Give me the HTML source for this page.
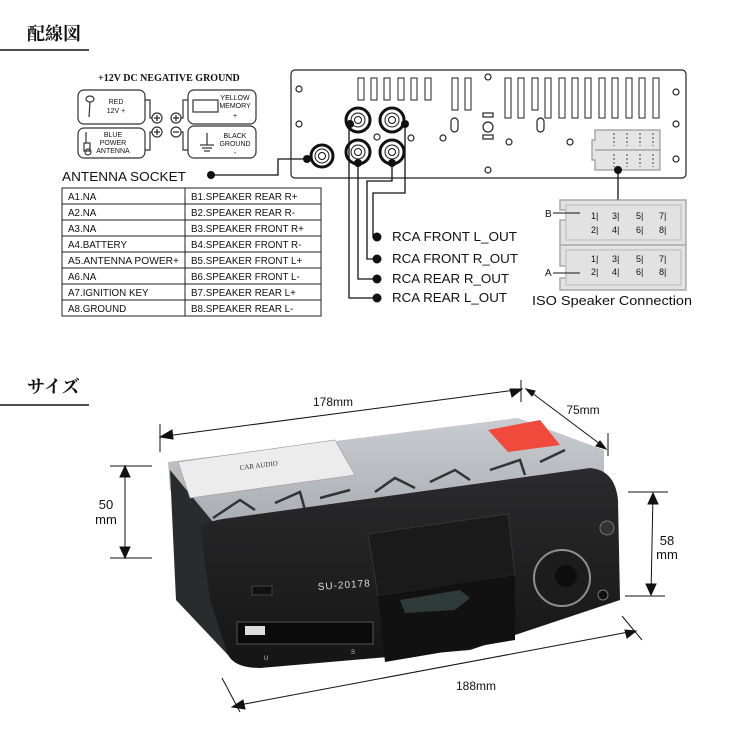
<!DOCTYPE html>
<html><head><meta charset="utf-8"><style>
html,body{margin:0;padding:0;background:#fff;}
svg{display:block;}
.t{font-family:"Liberation Sans",sans-serif;fill:#111;}
</style></head><body>
<svg width="750" height="750" viewBox="0 0 750 750" xmlns="http://www.w3.org/2000/svg">
<!-- headings -->
<text x="27" y="40" font-family="'Liberation Serif','Noto Serif CJK SC',serif" font-weight="bold" font-size="18" fill="#111">配線図</text>
<line x1="0" y1="50" x2="89" y2="50" stroke="#111" stroke-width="1.5"/>
<text x="27" y="393" font-family="'Liberation Serif','Noto Serif CJK SC',serif" font-weight="bold" font-size="18" fill="#111">サイズ</text>
<line x1="0" y1="405" x2="89" y2="405" stroke="#111" stroke-width="1.5"/>

<!-- power legend -->
<text x="98" y="81" font-family="'Liberation Serif',serif" font-weight="bold" font-size="10" fill="#111">+12V DC NEGATIVE GROUND</text>
<g fill="none" stroke="#333" stroke-width="1.2">
<rect x="78" y="90" width="67" height="34" rx="6"/>
<rect x="78" y="128" width="67" height="30" rx="6"/>
<rect x="188" y="90" width="68" height="34" rx="6"/>
<rect x="188" y="126" width="68" height="32" rx="6"/>
<polyline points="145,100 150,100 150,118 152,118"/>
<polyline points="145,150 150,150 150,132 152,132"/>
<polyline points="188,100 183,100 183,118 181,118"/>
<polyline points="188,150 183,150 183,132 181,132"/>
<circle cx="157" cy="118" r="5"/><circle cx="176" cy="118" r="5"/>
<circle cx="157" cy="132" r="5"/><circle cx="176" cy="132" r="5"/>
<rect x="193" y="100" width="25" height="12"/>
<line x1="207" y1="145" x2="207" y2="133"/><line x1="200" y1="145" x2="214" y2="145"/><line x1="202" y1="148" x2="212" y2="148"/><line x1="204" y1="151" x2="210" y2="151"/>
<ellipse cx="90" cy="99" rx="4" ry="3"/><line x1="90" y1="102" x2="89" y2="117"/>
<line x1="86" y1="132" x2="86" y2="143"/><rect x="84" y="143" width="6" height="8"/><circle cx="88" cy="152" r="3"/>
</g>
<g fill="#222" stroke="#222" stroke-width="1.2">
<line x1="154" y1="118" x2="160" y2="118"/><line x1="157" y1="115" x2="157" y2="121"/>
<line x1="173" y1="118" x2="179" y2="118"/><line x1="176" y1="115" x2="176" y2="121"/>
<line x1="154" y1="132" x2="160" y2="132"/><line x1="157" y1="129" x2="157" y2="135"/>
<line x1="173" y1="132" x2="179" y2="132"/>
</g>
<g class="t" font-size="7" text-anchor="middle">
<text x="116" y="104">RED</text><text x="116" y="113">12V +</text>
<text x="113" y="137">BLUE</text><text x="113" y="145">POWER</text><text x="113" y="153">ANTENNA</text>
<text x="235" y="100">YELLOW</text><text x="235" y="108">MEMORY</text><text x="235" y="118">+</text>
<text x="235" y="138">BLACK</text><text x="235" y="146">GROUND</text><text x="235" y="155">-</text>
</g>

<!-- antenna -->
<text x="62" y="181" class="t" font-size="12.5" textLength="124" lengthAdjust="spacingAndGlyphs">ANTENNA SOCKET</text>
<circle cx="211" cy="175" r="4" fill="#111"/>
<polyline points="211,175 278,175 278,159 304,159" fill="none" stroke="#111" stroke-width="1.3"/>

<!-- table -->
<g stroke="#222" stroke-width="1" fill="none">
<rect x="62" y="188" width="259" height="128"/>
<line x1="185" y1="188" x2="185" y2="316"/>
<line x1="62" y1="204" x2="321" y2="204"/><line x1="62" y1="220" x2="321" y2="220"/>
<line x1="62" y1="236" x2="321" y2="236"/><line x1="62" y1="252" x2="321" y2="252"/>
<line x1="62" y1="268" x2="321" y2="268"/><line x1="62" y1="284" x2="321" y2="284"/>
<line x1="62" y1="300" x2="321" y2="300"/>
</g>
<g class="t" font-size="9.8">
<text x="68" y="200">A1.NA</text><text x="68" y="216">A2.NA</text><text x="68" y="232">A3.NA</text><text x="68" y="248">A4.BATTERY</text>
<text x="68" y="264" textLength="111" lengthAdjust="spacingAndGlyphs">A5.ANTENNA POWER+</text><text x="68" y="280">A6.NA</text><text x="68" y="296">A7.IGNITION KEY</text><text x="68" y="312">A8.GROUND</text>
<text x="191" y="200">B1.SPEAKER REAR R+</text><text x="191" y="216">B2.SPEAKER REAR R-</text><text x="191" y="232">B3.SPEAKER FRONT R+</text><text x="191" y="248">B4.SPEAKER FRONT R-</text>
<text x="191" y="264">B5.SPEAKER FRONT L+</text><text x="191" y="280">B6.SPEAKER FRONT L-</text><text x="191" y="296">B7.SPEAKER REAR L+</text><text x="191" y="312">B8.SPEAKER REAR L-</text>
</g>

<!-- back panel -->
<g fill="none" stroke="#222" stroke-width="1.2">
<rect x="291" y="70" width="395" height="108" rx="4"/>
<circle cx="299" cy="89" r="3"/><circle cx="299" cy="124" r="3"/>
<circle cx="488" cy="77" r="3"/><circle cx="676" cy="92" r="3"/><circle cx="676" cy="124" r="3"/><circle cx="676" cy="159" r="3"/>
<circle cx="377" cy="137" r="3"/><circle cx="411" cy="138" r="3"/><circle cx="443" cy="138" r="3"/><circle cx="509" cy="142" r="3"/><circle cx="570" cy="142" r="3"/><circle cx="488" cy="170" r="3"/>
<rect x="451" y="118" width="7" height="14" rx="3.5"/><rect x="537" y="118" width="7" height="14" rx="3.5"/>
<circle cx="488" cy="127" r="5"/><rect x="483" y="113" width="10" height="4"/><rect x="483" y="135" width="10" height="4"/>
</g>
<g fill="none" stroke="#222" stroke-width="1">
<rect x="358" y="78" width="6" height="22"/><rect x="371" y="78" width="6" height="22"/><rect x="384" y="78" width="6" height="22"/><rect x="398" y="78" width="6" height="22"/><rect x="411" y="78" width="6" height="22"/><rect x="425" y="78" width="6" height="22"/>
<rect x="452" y="78" width="6" height="32"/><rect x="465" y="78" width="6" height="32"/>
<rect x="505" y="78" width="6" height="40"/><rect x="518" y="78" width="6" height="40"/><rect x="532" y="78" width="6" height="32"/><rect x="545" y="78" width="6" height="40"/><rect x="559" y="78" width="6" height="40"/><rect x="572" y="78" width="6" height="40"/><rect x="585" y="78" width="6" height="40"/><rect x="599" y="78" width="6" height="40"/><rect x="612" y="78" width="6" height="40"/><rect x="626" y="78" width="6" height="40"/><rect x="639" y="78" width="6" height="40"/><rect x="653" y="78" width="6" height="40"/>
</g>
<!-- in-panel ISO -->
<g fill="#e4e4e4" stroke="#999" stroke-width="1.2">
<path d="M595 130 H660 V170 H595 V160 H592 V140 H595 Z"/>
<line x1="595" y1="150" x2="660" y2="150"/>
</g>
<g stroke="#444" stroke-width="1" stroke-dasharray="2,2">
<line x1="614" y1="133" x2="614" y2="146"/><line x1="627" y1="133" x2="627" y2="146"/><line x1="640" y1="133" x2="640" y2="146"/><line x1="653" y1="133" x2="653" y2="146"/>
<line x1="614" y1="154" x2="614" y2="167"/><line x1="627" y1="154" x2="627" y2="167"/><line x1="640" y1="154" x2="640" y2="167"/><line x1="653" y1="154" x2="653" y2="167"/>
</g>
<circle cx="618" cy="170" r="4" fill="#111"/><line x1="618" y1="170" x2="618" y2="203" stroke="#111" stroke-width="1.3"/><circle cx="618" cy="203" r="4" fill="#111"/>

<!-- RCA jacks -->
<g fill="none" stroke="#111">
<circle cx="322" cy="156" r="11" stroke-width="3"/><circle cx="322" cy="156" r="7" stroke-width="1"/><circle cx="322" cy="156" r="3.5" stroke-width="1"/>
<circle cx="358" cy="120" r="12" stroke-width="3"/><circle cx="358" cy="120" r="7" stroke-width="1"/><circle cx="358" cy="120" r="3.5" stroke-width="1"/>
<circle cx="392" cy="120" r="12" stroke-width="3"/><circle cx="392" cy="120" r="7" stroke-width="1"/><circle cx="392" cy="120" r="3.5" stroke-width="1"/>
<circle cx="358" cy="152" r="12" stroke-width="3"/><circle cx="358" cy="152" r="7" stroke-width="1"/><circle cx="358" cy="152" r="3.5" stroke-width="1"/>
<circle cx="392" cy="152" r="12" stroke-width="3"/><circle cx="392" cy="152" r="7" stroke-width="1"/><circle cx="392" cy="152" r="3.5" stroke-width="1"/>
</g>
<g fill="#111"><circle cx="307" cy="159" r="4"/><circle cx="350" cy="124" r="4"/><circle cx="405" cy="124" r="4"/><circle cx="358" cy="163" r="4"/><circle cx="392" cy="163" r="4"/></g>
<g fill="none" stroke="#111" stroke-width="1.3">
<polyline points="349,124 349,298 377,298"/>
<polyline points="358,163 358,279 377,279"/>
<polyline points="392,163 392,181 367,181 367,259 377,259"/>
<polyline points="405,124 405,193 373,193 373,237 377,237"/>
</g>
<g fill="#111"><circle cx="377" cy="237" r="4.5"/><circle cx="377" cy="259" r="4.5"/><circle cx="377" cy="279" r="4.5"/><circle cx="377" cy="298" r="4.5"/></g>
<g class="t" font-size="12.5">
<text x="392" y="241" textLength="125" lengthAdjust="spacingAndGlyphs">RCA FRONT L_OUT</text><text x="392" y="263" textLength="126" lengthAdjust="spacingAndGlyphs">RCA FRONT R_OUT</text>
<text x="392" y="283" textLength="117" lengthAdjust="spacingAndGlyphs">RCA REAR R_OUT</text><text x="392" y="302" textLength="115" lengthAdjust="spacingAndGlyphs">RCA REAR L_OUT</text>
</g>

<!-- ISO box -->
<g fill="#e2e2e2" stroke="#aaa" stroke-width="1.5">
<path d="M560 200 H686 V290 H560 V278 H566 V266 H560 V220 H566 V210 H560 Z"/>
<line x1="560" y1="245" x2="686" y2="245"/>
</g>
<g fill="#e2e2e2" stroke="#bbb" stroke-width="1"><rect x="566" y="205" width="115" height="35"/><rect x="566" y="250" width="115" height="35"/></g>
<line x1="553" y1="213" x2="580" y2="213" stroke="#111"/><line x1="553" y1="273" x2="580" y2="273" stroke="#111"/>
<g class="t" font-size="10"><text x="545" y="217">B</text><text x="545" y="276">A</text></g>
<g class="t" font-size="9">
<text x="591" y="219">1|</text><text x="612" y="219">3|</text><text x="636" y="219">5|</text><text x="659" y="219">7|</text>
<text x="591" y="233">2|</text><text x="612" y="233">4|</text><text x="636" y="233">6|</text><text x="659" y="233">8|</text>
<text x="591" y="262">1|</text><text x="612" y="262">3|</text><text x="636" y="262">5|</text><text x="659" y="262">7|</text>
<text x="591" y="275">2|</text><text x="612" y="275">4|</text><text x="636" y="275">6|</text><text x="659" y="275">8|</text>
</g>
<text x="532" y="305" class="t" font-size="12.5" textLength="160" lengthAdjust="spacingAndGlyphs">ISO Speaker Connection</text>

<!-- product -->
<defs>
<linearGradient id="silv" x1="0" y1="0" x2="0" y2="1"><stop offset="0" stop-color="#c9ccd0"/><stop offset="1" stop-color="#a9adb2"/></linearGradient>
<linearGradient id="blk" x1="0" y1="0" x2="0" y2="1"><stop offset="0" stop-color="#2b2b2d"/><stop offset="1" stop-color="#151515"/></linearGradient>
</defs>
<polygon points="168,462 518,418 604,450 604,478 215,528 170,490" fill="url(#silv)"/>
<polygon points="170,470 218,528 228,655 176,600" fill="#2a2b2d"/>
<polygon points="178,462 335,440 355,475 190,498" fill="#ececec" stroke="#999" stroke-width="0.6"/>
<text x="240" y="470" font-family="'Liberation Serif',serif" font-size="7" fill="#333" transform="rotate(-7 240 470)">CAR AUDIO</text>
<polygon points="488,430 540,420 560,445 508,452" fill="#f04a3c"/>
<g stroke="#333" stroke-width="2.5" fill="none">
<polyline points="213,518 240,500 255,510"/><polyline points="275,503 300,492 305,510"/><polyline points="320,498 350,490"/><polyline points="375,492 395,478 415,488"/><polyline points="430,482 455,470 470,480"/><polyline points="490,470 520,460 525,475"/><polyline points="540,462 565,450"/>
</g>
<path d="M200 527 Q210 520 230 518 L590 468 Q615 470 618 500 L620 600 L470 650 L260 668 Q235 668 228 655 L210 600 Z" fill="url(#blk)"/>
<polygon points="368,534 508,514 515,575 465,583 378,596" fill="#1a1a1b" stroke="#3a3a3a" stroke-width="0.8"/>
<polygon points="378,596 515,575 515,640 385,662" fill="#111"/>
<polygon points="400,600 460,590 470,598 455,610 405,613" fill="#2f3b38"/>
<circle cx="562" cy="578" r="28" fill="#1c1c1c" stroke="#8f8f8f" stroke-width="2"/>
<circle cx="566" cy="576" r="11" fill="#0d0d0d"/>
<circle cx="607" cy="528" r="7" fill="#333" stroke="#777"/>
<circle cx="603" cy="595" r="5" fill="#111" stroke="#777"/>
<rect x="252" y="586" width="20" height="9" fill="#111" stroke="#444"/>
<rect x="237" y="622" width="136" height="22" fill="#0b0b0b" stroke="#666" stroke-width="0.8"/>
<rect x="245" y="626" width="20" height="9" fill="#ddd"/>
<text x="318" y="590" font-family="'Liberation Sans',sans-serif" font-size="10" fill="#ddd" transform="rotate(-4 318 590)" letter-spacing="1">SU-20178</text>
<text x="264" y="660" font-family="'Liberation Sans',sans-serif" font-size="6" fill="#ccc">U</text>
<text x="351" y="654" font-family="'Liberation Sans',sans-serif" font-size="6" fill="#ccc">S</text>

<!-- dimensions -->
<g stroke="#111" stroke-width="1" fill="#111">
<line x1="160" y1="424" x2="160" y2="452"/><line x1="521" y1="380" x2="521" y2="402"/>
<line x1="166" y1="436" x2="516" y2="390"/>
<polygon points="160,437 172,430 173,439"/><polygon points="522,389 510,389 512,397"/>
<line x1="528" y1="390" x2="604" y2="447"/>
<polygon points="526,389 535,391 532,396"/><polygon points="606,449 596,446 600,441"/>
<line x1="608" y1="433" x2="608" y2="456"/>
<line x1="110" y1="466" x2="152" y2="466"/><line x1="110" y1="558" x2="152" y2="558"/>
<line x1="125" y1="468" x2="125" y2="556"/>
<polygon points="125,466 120,477 130,477"/><polygon points="125,558 120,547 130,547"/>
<line x1="628" y1="492" x2="668" y2="492"/><line x1="625" y1="596" x2="665" y2="596"/>
<line x1="653" y1="494" x2="651" y2="594"/>
<polygon points="653,493 648,504 658,504"/><polygon points="651,595 646,584 656,584"/>
<line x1="222" y1="678" x2="240" y2="712"/><line x1="622" y1="616" x2="642" y2="640"/>
<line x1="234" y1="706" x2="634" y2="631"/>
<polygon points="232,707 243,700 245,709"/><polygon points="636,631 625,630 627,638"/>
</g>
<g class="t" font-size="12" text-anchor="middle">
<text x="333" y="406">178mm</text><text x="583" y="414">75mm</text>
<text x="106" y="509" font-size="13">50</text><text x="106" y="524" font-size="13">mm</text>
<text x="667" y="545" font-size="13">58</text><text x="667" y="559" font-size="13">mm</text>
<text x="476" y="690">188mm</text>
</g>
</svg>
</body></html>
